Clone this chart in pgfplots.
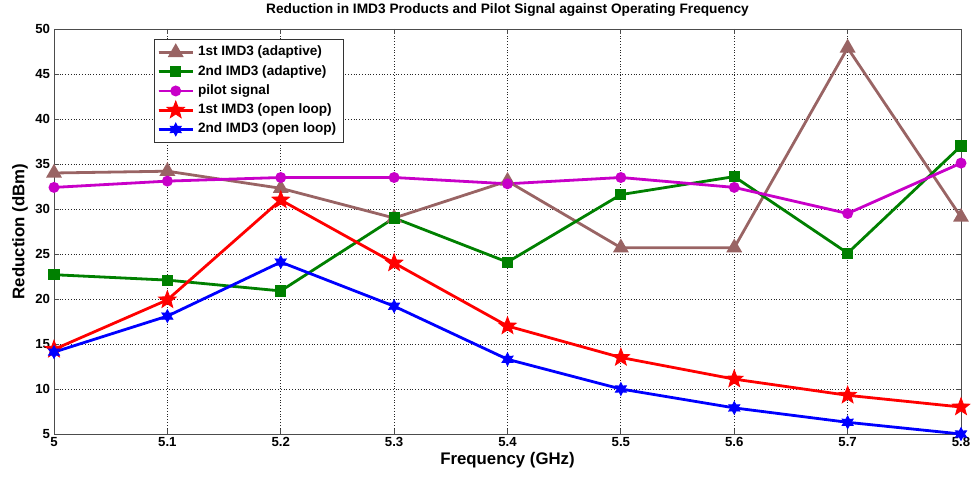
\documentclass[border=0pt]{standalone}
\usepackage{fontspec}
\setmainfont{Liberation Sans}
\usepackage{pgfplots}
\pgfplotsset{compat=1.18}
\definecolor{cbrown}{RGB}{153,100,100}
\definecolor{cgreen}{RGB}{0,128,0}
\definecolor{cmag}{RGB}{200,0,200}
\pgfdeclareplotmark{pent}{%
  \pgfpathmoveto{\pgfpointpolar{90}{\pgfplotmarksize}}%
  \pgfpathlineto{\pgfpointpolar{126}{0.42\pgfplotmarksize}}%
  \pgfpathlineto{\pgfpointpolar{162}{\pgfplotmarksize}}%
  \pgfpathlineto{\pgfpointpolar{198}{0.42\pgfplotmarksize}}%
  \pgfpathlineto{\pgfpointpolar{234}{\pgfplotmarksize}}%
  \pgfpathlineto{\pgfpointpolar{270}{0.42\pgfplotmarksize}}%
  \pgfpathlineto{\pgfpointpolar{306}{\pgfplotmarksize}}%
  \pgfpathlineto{\pgfpointpolar{342}{0.42\pgfplotmarksize}}%
  \pgfpathlineto{\pgfpointpolar{18}{\pgfplotmarksize}}%
  \pgfpathlineto{\pgfpointpolar{54}{0.42\pgfplotmarksize}}%
  \pgfpathclose\pgfusepathqfillstroke}
\pgfdeclareplotmark{hexa}{%
  \pgfpathmoveto{\pgfpointpolar{90}{\pgfplotmarksize}}%
  \pgfpathlineto{\pgfpointpolar{120}{0.55\pgfplotmarksize}}%
  \pgfpathlineto{\pgfpointpolar{150}{\pgfplotmarksize}}%
  \pgfpathlineto{\pgfpointpolar{180}{0.55\pgfplotmarksize}}%
  \pgfpathlineto{\pgfpointpolar{210}{\pgfplotmarksize}}%
  \pgfpathlineto{\pgfpointpolar{240}{0.55\pgfplotmarksize}}%
  \pgfpathlineto{\pgfpointpolar{270}{\pgfplotmarksize}}%
  \pgfpathlineto{\pgfpointpolar{300}{0.55\pgfplotmarksize}}%
  \pgfpathlineto{\pgfpointpolar{330}{\pgfplotmarksize}}%
  \pgfpathlineto{\pgfpointpolar{0}{0.55\pgfplotmarksize}}%
  \pgfpathlineto{\pgfpointpolar{30}{\pgfplotmarksize}}%
  \pgfpathlineto{\pgfpointpolar{60}{0.55\pgfplotmarksize}}%
  \pgfpathclose\pgfusepathqfillstroke}
\begin{document}
\begin{tikzpicture}
\begin{axis}[
  scale only axis, width=453.5pt, height=202.5pt,
  xmin=5, xmax=5.8, ymin=5, ymax=50,
  xtick={5,5.1,...,5.8}, ytick={5,10,...,50},
  xticklabels={5,5.1,5.2,5.3,5.4,5.5,5.6,5.7,5.8},
  /pgf/number format/assume math mode=true,
  tick label style={font=\fontsize{6.6}{7}\selectfont\bfseries},
  xticklabel style={yshift=1.8pt},
  yticklabel style={xshift=1.5pt},
  tick align=inside, major tick length=2.5pt,
  tick style={black!70, thin},
  axis line style={black!70, thin},
  grid=major, major grid style={black!85, densely dotted, line width=0.4pt},
  title={\bfseries Reduction in IMD3 Products and Pilot Signal against Operating Frequency},
  title style={font=\fontsize{6.85}{7.5}\selectfont, yshift=-3.3pt},
  xlabel={\bfseries Frequency (GHz)},
  ylabel={\bfseries Reduction (dBm)},
  label style={font=\fontsize{8.4}{9}\selectfont},
  xlabel style={yshift=4.2pt},
  ylabel style={yshift=-3.2pt},
  every axis plot/.append style={line width=1.4pt},
  legend cell align=left,
  legend style={at={(0.11,0.976)}, anchor=north west, draw=black!80, line width=0.5pt,
    font=\fontsize{6.8}{7.5}\selectfont\bfseries, inner sep=1.5pt, row sep=-0.6pt,
    nodes={inner sep=1.9pt}},
  legend image code/.code={\draw[#1] (0cm,0cm) -- (0.6cm,0cm);
    \draw[#1, mark repeat=2, mark phase=2] plot coordinates {(0cm,0cm) (0.3cm,0cm) (0.6cm,0cm)};},
]
\addplot[cbrown, mark=triangle*, mark size=3.2pt] coordinates {
  (5.0,34.0) (5.1,34.2) (5.2,32.3) (5.3,29.0) (5.4,33.1)
  (5.5,25.7) (5.6,25.7) (5.7,47.9) (5.8,29.1)};
\addplot[cgreen, mark=square*, mark size=2.1pt] coordinates {
  (5.0,22.7) (5.1,22.1) (5.2,20.9) (5.3,29.0) (5.4,24.1)
  (5.5,31.6) (5.6,33.6) (5.7,25.1) (5.8,37.0)};
\addplot[cmag, mark=*, mark size=2pt] coordinates {
  (5.0,32.4) (5.1,33.1) (5.2,33.5) (5.3,33.5) (5.4,32.8)
  (5.5,33.5) (5.6,32.4) (5.7,29.5) (5.8,35.1)};
\addplot[red, mark=pent, mark size=4.6pt, mark options={line width=0.4pt}] coordinates {
  (5.0,14.4) (5.1,19.9) (5.2,31.0) (5.3,24.0) (5.4,17.0)
  (5.5,13.5) (5.6,11.1) (5.7,9.3) (5.8,8.0)};
\addplot[blue, mark=hexa, mark size=3.2pt, mark options={line width=0.4pt}] coordinates {
  (5.0,14.1) (5.1,18.1) (5.2,24.1) (5.3,19.2) (5.4,13.3)
  (5.5,10.0) (5.6,7.9) (5.7,6.3) (5.8,5.0)};
\legend{1st IMD3 (adaptive),2nd IMD3 (adaptive),pilot signal,1st IMD3 (open loop),2nd IMD3 (open loop)}
\end{axis}
\pgfresetboundingbox
\path[use as bounding box] ([xshift=-27pt,yshift=-21.5pt]current axis.south west) rectangle ([xshift=6pt,yshift=14.5pt]current axis.north east);
\end{tikzpicture}
\end{document}
